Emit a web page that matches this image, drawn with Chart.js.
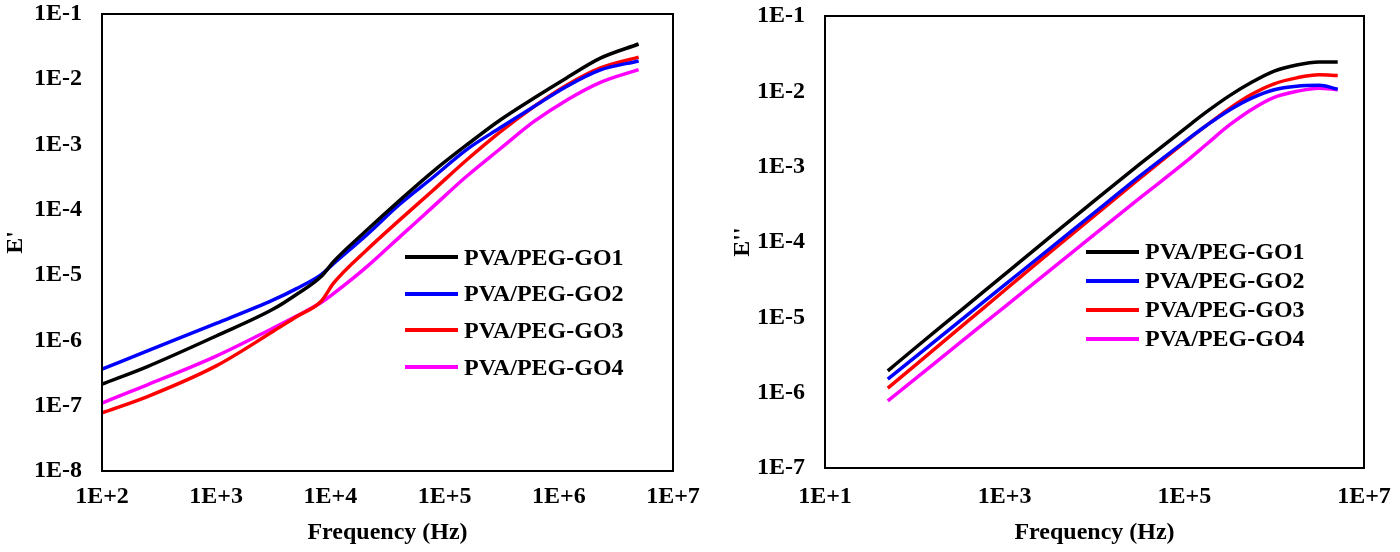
<!DOCTYPE html>
<html lang="en">
<head>
    <meta charset="UTF-8">
    <title>E' and E'' vs frequency</title>
    <script src="https://cdn.jsdelivr.net/npm/chart.js"></script>
    <style>
        body {
            margin: 0;
            background: #fff;
            width: 1400px;
            height: 552px;
            position: relative;
            overflow: hidden;
        }
        .panel {
            position: absolute;
            top: 0;
            width: 700px;
            height: 552px;
        }
        .legend {
            position: absolute;
            font-family: "Liberation Serif", "Times New Roman", serif;
            font-weight: bold;
            font-size: 24px;
        }
        .legend-item {
            display: flex;
            align-items: center;
        }
        .legend-line {
            width: 53px;
            height: 4px;
            margin-right: 6px;
        }
    </style>
</head>
<body>

<div class="panel" style="left:0"><canvas id="leftChart" width="700" height="552"></canvas></div>
<div class="panel" style="left:700px"><canvas id="rightChart" width="700" height="552"></canvas></div>
<div class="legend" id="legendLeft" style="left:405px; top:239px;"></div>
<div class="legend" id="legendRight" style="left:1086px; top:237px;"></div>

<script>
    const seriesNames = ['PVA/PEG-GO1', 'PVA/PEG-GO2', 'PVA/PEG-GO3', 'PVA/PEG-GO4'];
    const seriesColors = ['#000000', '#0000FF', '#FF0000', '#FF00FF'];

    // left panel: E'
    const freqLeft = [100, 250, 1000, 3160, 5000, 8300, 10700, 20900, 40700, 79400,
        155000, 309000, 603000, 1170000, 2290000, 5000000];
    const realGO1 = [2.14e-7, 3.98e-7, 1.17e-6, 3.02e-6, 5.01e-6, 9.55e-6, 1.62e-5, 4.90e-5, 1.41e-4, 3.89e-4,
        9.77e-4, 2.40e-3, 5.13e-3, 1.05e-2, 2.09e-2, 3.47e-2];
    const realGO2 = [3.63e-7, 6.92e-7, 1.82e-6, 4.17e-6, 6.17e-6, 1.02e-5, 1.51e-5, 4.17e-5, 1.23e-4, 3.16e-4,
        8.32e-4, 1.82e-3, 3.80e-3, 7.76e-3, 1.38e-2, 1.91e-2];
    const realGO3 = [7.76e-8, 1.38e-7, 4.07e-7, 1.38e-6, 2.29e-6, 3.98e-6, 7.59e-6, 2.45e-5, 7.08e-5, 2.00e-4,
        5.75e-4, 1.58e-3, 3.80e-3, 8.13e-3, 1.48e-2, 2.19e-2];
    const realGO4 = [1.10e-7, 2.09e-7, 5.75e-7, 1.55e-6, 2.34e-6, 3.80e-6, 5.25e-6, 1.35e-5, 3.89e-5, 1.12e-4,
        3.24e-4, 8.71e-4, 2.24e-3, 4.79e-3, 8.91e-3, 1.41e-2];

    // right panel: E''
    const freqRight = [50, 100, 316, 1000, 3160, 10000, 31600, 100000, 178000, 316000,
        562000, 1000000, 1780000, 3160000, 5100000];
    const lossGO1 = [1.95e-6, 3.89e-6, 1.20e-5, 3.72e-5, 1.15e-4, 3.55e-4, 1.07e-3, 3.16e-3, 5.37e-3, 8.71e-3,
        1.32e-2, 1.86e-2, 2.24e-2, 2.45e-2, 2.45e-2];
    const lossGO2 = [1.51e-6, 2.95e-6, 8.91e-6, 2.69e-5, 8.13e-5, 2.45e-4, 7.41e-4, 2.14e-3, 3.55e-3, 5.62e-3,
        8.13e-3, 1.05e-2, 1.17e-2, 1.20e-2, 1.07e-2];
    const lossGO3 = [1.15e-6, 2.29e-6, 7.24e-6, 2.29e-5, 7.24e-5, 2.24e-4, 6.92e-4, 2.09e-3, 3.55e-3, 5.89e-3,
        9.12e-3, 1.26e-2, 1.51e-2, 1.66e-2, 1.62e-2];
    const lossGO4 = [7.76e-7, 1.51e-6, 4.57e-6, 1.38e-5, 4.17e-5, 1.26e-4, 3.80e-4, 1.12e-3, 2.00e-3, 3.55e-3,
        5.75e-3, 8.32e-3, 1.00e-2, 1.10e-2, 1.05e-2];

    const xTicksLeft = [1e2, 1e3, 1e4, 1e5, 1e6, 1e7];
    const yTicksLeft = [1e-8, 1e-7, 1e-6, 1e-5, 1e-4, 1e-3, 1e-2, 1e-1];
    const xTicksRight = [1e1, 1e3, 1e5, 1e7];
    const yTicksRight = [1e-7, 1e-6, 1e-5, 1e-4, 1e-3, 1e-2, 1e-1];

    const fontFamily = '"Liberation Serif", "Times New Roman", serif';

    function sciLabel(v) {
        const e = Math.round(Math.log10(v));
        return '1E' + (e >= 0 ? '+' : '-') + Math.abs(e);
    }

    // draws the black box around the plot area
    const framePlugin = {
        id: 'frame',
        afterDatasetsDraw(chart) {
            const { ctx, chartArea: a } = chart;
            ctx.save();
            ctx.strokeStyle = '#000';
            ctx.lineWidth = 2;
            ctx.strokeRect(a.left, a.top, a.right - a.left, a.bottom - a.top);
            ctx.restore();
        }
    };

    function makeDatasets(freq, series) {
        return series.map((vals, i) => ({
            label: seriesNames[i],
            data: freq.map((f, k) => ({ x: f, y: vals[k] })),
            borderColor: seriesColors[i],
            borderWidth: 3.5,
            pointRadius: 0,
            fill: false,
            cubicInterpolationMode: 'monotone'
        }));
    }

    function makeChart(id, cfg) {
        return new Chart(document.getElementById(id), {
            type: 'line',
            data: { datasets: makeDatasets(cfg.freq, cfg.series) },
            options: {
                responsive: false,
                animation: false,
                layout: { padding: cfg.padding },
                plugins: { legend: { display: false }, tooltip: { enabled: false } },
                scales: {
                    x: {
                        type: 'logarithmic',
                        min: cfg.xTicks[0],
                        max: cfg.xTicks[cfg.xTicks.length - 1],
                        grid: { display: false, drawTicks: false },
                        border: { display: false },
                        afterBuildTicks: s => { s.ticks = cfg.xTicks.map(v => ({ value: v })); },
                        afterFit: s => {
                            s.height = cfg.xHeight;
                            s.paddingLeft = 0;
                            s.paddingRight = 0;
                        },
                        ticks: {
                            autoSkip: false,
                            maxRotation: 0,
                            padding: cfg.xTickPad,
                            color: '#000',
                            font: { family: fontFamily, size: 24, weight: 'bold' },
                            callback: v => sciLabel(v)
                        },
                        title: {
                            display: true,
                            text: 'Frequency (Hz)',
                            color: '#000',
                            padding: { top: 0, bottom: 4.5 },
                            font: { family: fontFamily, size: 24, weight: 'bold' }
                        }
                    },
                    y: {
                        type: 'logarithmic',
                        min: cfg.yTicks[0],
                        max: cfg.yTicks[cfg.yTicks.length - 1],
                        grid: { display: false, drawTicks: false },
                        border: { display: false },
                        afterBuildTicks: s => { s.ticks = cfg.yTicks.map(v => ({ value: v })); },
                        afterFit: s => {
                            s.width = cfg.yWidth;
                            s.paddingTop = 0;
                            s.paddingBottom = 0;
                        },
                        ticks: {
                            autoSkip: false,
                            padding: 20,
                            color: '#000',
                            font: { family: fontFamily, size: 24, weight: 'bold' },
                            callback: v => sciLabel(v)
                        },
                        title: {
                            display: true,
                            text: cfg.yTitle,
                            color: '#000',
                            padding: { top: cfg.yTitlePad, bottom: 0 },
                            font: { family: fontFamily, size: 24, weight: 'bold' }
                        }
                    }
                }
            },
            plugins: [framePlugin]
        });
    }

    makeChart('leftChart', {
        freq: freqLeft,
        series: [realGO1, realGO2, realGO3, realGO4],
        xTicks: xTicksLeft,
        yTicks: yTicksLeft,
        yTitle: "E'",
        yTitlePad: 1.5,
        yWidth: 102,
        xHeight: 81,
        xTickPad: 11,
        padding: { left: 0, right: 27, top: 14, bottom: 0 }
    });

    makeChart('rightChart', {
        freq: freqRight,
        series: [lossGO1, lossGO2, lossGO3, lossGO4],
        xTicks: xTicksRight,
        yTicks: yTicksRight,
        yTitle: "E''",
        yTitlePad: 0,
        yWidth: 97,
        xHeight: 84,
        xTickPad: 14,
        padding: { left: 28, right: 36, top: 16, bottom: 0 }
    });

    // html legends, one per panel
    function createLegend(id, rowHeight) {
        const box = document.getElementById(id);
        seriesNames.forEach((name, i) => {
            const item = document.createElement('div');
            item.className = 'legend-item';
            item.style.height = rowHeight + 'px';

            const line = document.createElement('div');
            line.className = 'legend-line';
            line.style.backgroundColor = seriesColors[i];

            const text = document.createElement('span');
            text.textContent = name;

            item.appendChild(line);
            item.appendChild(text);
            box.appendChild(item);
        });
    }

    createLegend('legendLeft', 36.6);
    createLegend('legendRight', 29);
</script>

</body>
</html>
